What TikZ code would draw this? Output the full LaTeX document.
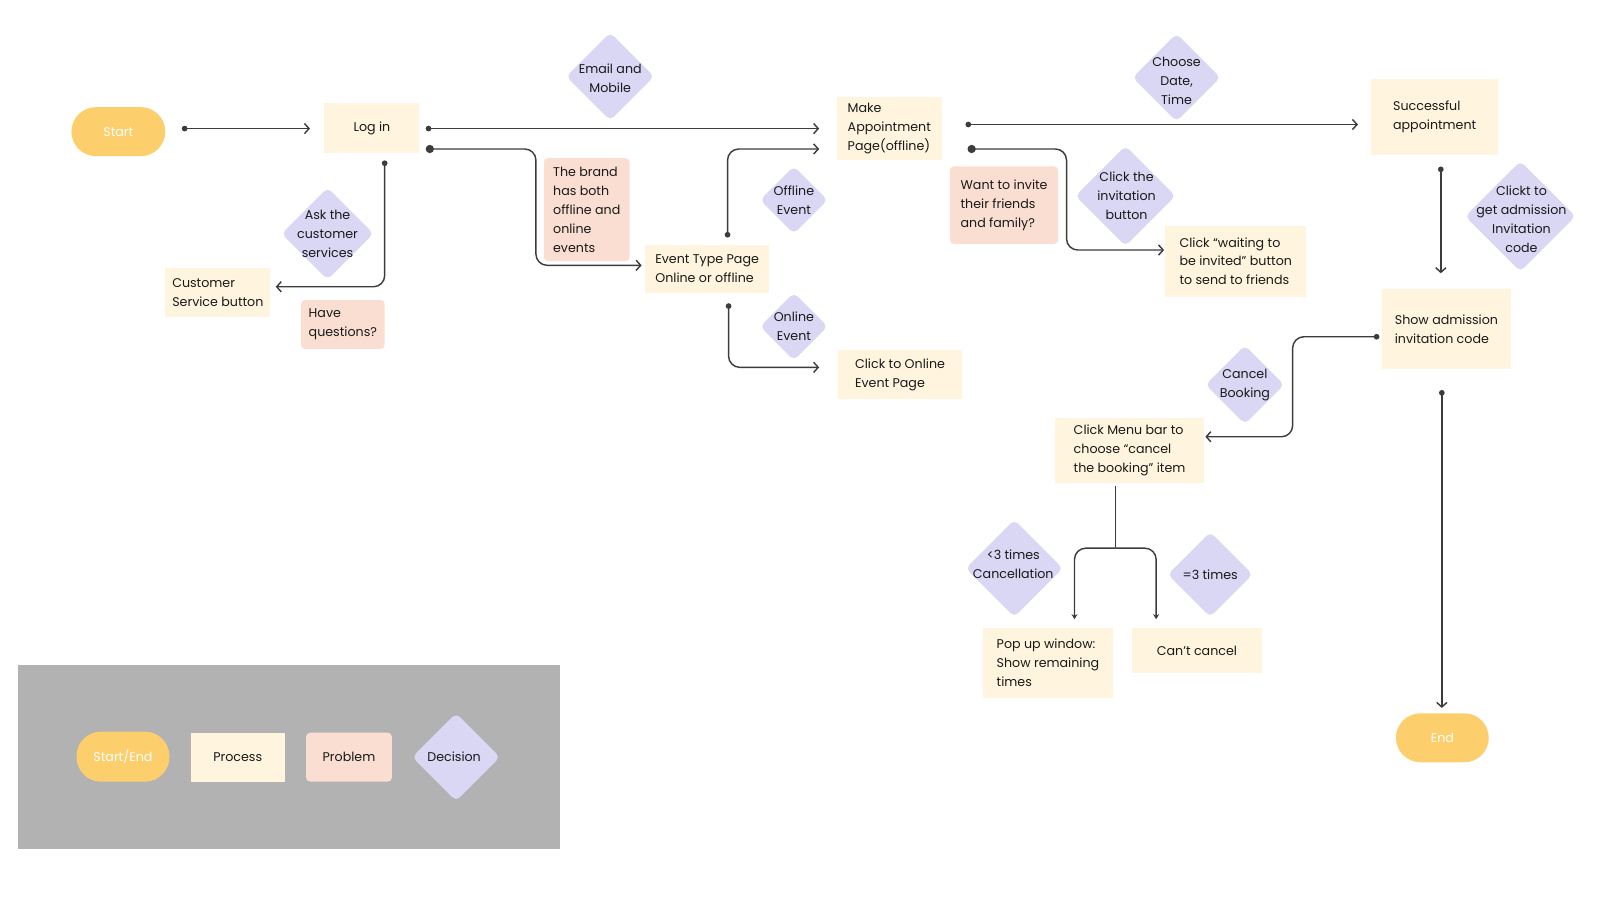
\documentclass[tikz,border=0pt]{standalone}
\usepackage{fontspec}
\setmainfont{Poppins}
\usetikzlibrary{arrows.meta,calc}
\definecolor{startc}{RGB}{252,207,108}
\definecolor{procc}{RGB}{255,245,222}
\definecolor{probc}{RGB}{250,222,210}
\definecolor{decc}{RGB}{218,215,245}
\definecolor{legc}{RGB}{178,178,178}
\definecolor{linec}{RGB}{60,60,60}
\definecolor{txtc}{RGB}{25,25,25}
\begin{document}
\begin{tikzpicture}[x=1pt,y=-1pt,
  base/.style={inner sep=0pt, font=\fontsize{12.4}{18.5}\selectfont, text=txtc, align=left},
  term/.style={base, rectangle, rounded corners=24pt, fill=startc, text=white, align=center},
  proc/.style={base, rectangle, fill=procc},
  prob/.style={base, rectangle, fill=probc, rounded corners=4pt},
  dmd/.style={rectangle, rotate=45, fill=decc, rounded corners=5pt, inner sep=0pt, minimum size=#1},
  dtxt/.style={base, align=center},
  conn/.style={draw=linec, line width=1.4pt, rounded corners=11pt,
     arrows={Circle[length=5.5pt]-Straight Barb[length=4.5pt,width=10pt]}},
  bigdot/.style={arrows={Circle[length=8pt]-Straight Barb[length=4.5pt,width=10pt]}},
  splitline/.style={draw=linec, line width=1.4pt, rounded corners=11pt},
  splitarrow/.style={draw=linec, line width=1.4pt, rounded corners=11pt,
     arrows={-Stealth[length=5pt,width=6pt]}}
]
\fill[white] (0,0) rectangle (1568,898);
\useasboundingbox (0,0) rectangle (1568,898);

% legend
\node[rectangle, fill=legc, minimum width=531pt, minimum height=180pt, inner sep=0pt] (legend) at (283.5,742) {};
\node[term, minimum width=91pt, minimum height=49pt] (lse) at (120.5,741.5) {Start/End};
\node[proc, minimum width=92pt, minimum height=48pt, align=center] (lproc) at (233,742) {Process};
\node[prob, minimum width=84pt, minimum height=48pt, align=center] (lprob) at (342,742) {Problem};
\node[dmd=60.8pt] (ldec) at (447,742) {};
\node[dtxt] (ldect) at (445,742) {Decision};

% terminals
\node[term, minimum width=92pt, minimum height=48pt] (start) at (116,129) {Start};
\node[term, minimum width=91pt, minimum height=48pt] (end) at (1413.5,723) {End};

% process boxes
\node[proc, minimum width=93pt, minimum height=49pt, align=center] (login) at (364.5,125.5) {Log in};
\node[proc, minimum width=103pt, minimum height=48pt] (cust) at (213.5,287) {Customer\\Service button};
\node[proc, minimum width=122pt, minimum height=47pt] (evt) at (693,263.5) {Event Type Page\\Online or offline};
\node[proc, minimum width=122pt, minimum height=48pt] (onl) at (882,367) {Click to Online\\Event Page};
\node[proc, minimum width=103pt, minimum height=62pt] (make) at (871.5,126) {Make\\Appointment\\Page(offline)};
\node[proc, minimum width=138pt, minimum height=70pt] (wait) at (1211,256) {Click “waiting to\\be invited” button\\to send to friends};
\node[proc, minimum width=124pt, minimum height=75pt] (succ) at (1406,114.5) {Successful\\appointment};
\node[proc, minimum width=127pt, minimum height=79pt] (show) at (1417.5,322.5) {Show admission\\invitation code};
\node[proc, minimum width=146pt, minimum height=63pt] (menu) at (1107,441.5) {Click Menu bar to\\choose “cancel\\the booking” item};
\node[proc, minimum width=128pt, minimum height=69pt] (pop) at (1027,649.5) {Pop up window:\\Show remaining\\times};
\node[proc, minimum width=128pt, minimum height=45pt, align=center] (cant) at (1173,637.5) {Can’t cancel};

% problem boxes
\node[prob, minimum width=82pt, minimum height=48pt] (have) at (336,318) {Have\\questions?};
\node[prob, minimum width=84pt, minimum height=101pt] (brand) at (575,205.5) {The brand\\has both\\offline and\\online\\events};
\node[prob, minimum width=106pt, minimum height=76pt] (want) at (984,201) {Want to invite\\their friends\\and family?};

% decisions
\node[dmd=63.6pt] (ask) at (321,229) {};
\node[dtxt] (askt) at (321,229) {Ask the\\customer\\services};
\node[dmd=60.8pt] (email) at (598,75) {};
\node[dtxt] (emailt) at (598,77) {Email and\\Mobile};
\node[dmd=46.7pt] (off) at (778,196) {};
\node[dtxt] (offt) at (778,196) {Offline\\Event};
\node[dmd=46.7pt] (on) at (778,320) {};
\node[dtxt] (ont) at (778,320) {Online\\Event};
\node[dmd=60.8pt] (choose) at (1153,76) {};
\node[dtxt] (chooset) at (1153,79) {Choose\\Date,\\Time};
\node[dmd=69.3pt] (inv) at (1103,192) {};
\node[dtxt] (invt) at (1104,192) {Click the\\invitation\\button};
\node[dmd=76.4pt] (clickt) at (1490,212) {};
\node[dtxt] (clicktt) at (1491,215) {Clickt to\\get admission\\Invitation\\code};
\node[dmd=54.4pt] (cancel) at (1220,377) {};
\node[dtxt] (cancelt) at (1220,377) {Cancel\\Booking};
\node[dmd=67.2pt] (less) at (994,557) {};
\node[dtxt] (lesst) at (993,553) {<3 times\\Cancellation};
\node[dmd=58.7pt] (eq) at (1186,563) {};
\node[dtxt] (eqt) at (1186,563) {=3 times};

% connectors
\draw[conn] ([shift={(16,-3)}]start.east) -- ([shift={(-14,0.5)}]login.west);
\draw[conn] ([shift={(6,0.5)}]login.east) -- ([shift={(-17,0)}]make.west);
\draw[conn, bigdot] ([shift={(6,20.5)}]login.east) -- ++(108,0) |- ([shift={(-3,-3.5)}]evt.west);
\draw[conn] ([shift={(20,-7)}]evt.north) |- ([shift={(-17,20)}]make.west);
\draw[conn] ([shift={(21,10)}]evt.south) |- ([shift={(-18,-7)}]onl.west);
\draw[conn] ([shift={(23,-4)}]make.east) -- ([shift={(-13,7.5)}]succ.west);
\draw[conn, bigdot] ([shift={(25,20)}]make.east) -- ++(97,0) |- ([shift={(-1,-11)}]wait.west);
\draw[conn] ([shift={(6,11)}]succ.south) -- ([shift={(-5.5,-15)}]show.north);
\draw[conn] ([shift={(-2,7.5)}]show.west) -- ++(-85,0) |- ([shift={(1,-13.5)}]menu.east);
\draw[conn] ([shift={(-4.5,20)}]show.south) -- ([shift={(-0.5,-5)}]end.north);
\draw[conn] ([shift={(12.5,7)}]login.south) |- ([shift={(5,-6)}]cust.east);

\draw[splitline] ([shift={(-14,3)}]menu.south) -- ++(0,61) coordinate (split);
\draw[splitarrow] (split) -| ([shift={(26,-8)}]pop.north);
\draw[splitarrow] (split) -| ([shift={(-40,-8)}]cant.north);
\end{tikzpicture}
\end{document}
